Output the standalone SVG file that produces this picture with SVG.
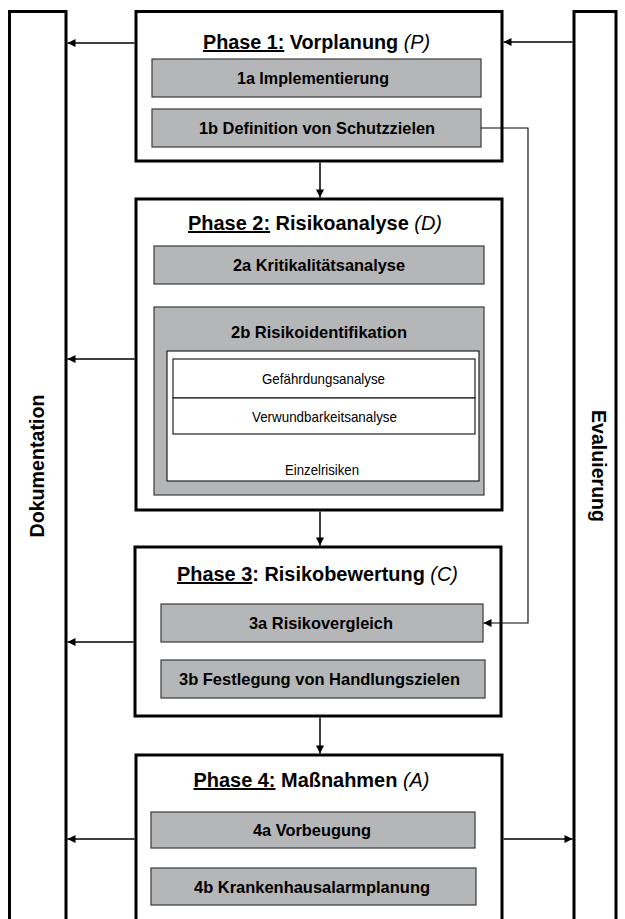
<svg xmlns="http://www.w3.org/2000/svg" width="625" height="919" viewBox="0 0 625 919">
<style>
.frame{fill:#fff;stroke:#000;stroke-width:3}
.gray{fill:#b5b6b8;stroke:#3a3a3a;stroke-width:1.2}
.white{fill:#fff;stroke:#222;stroke-width:1.2}
.title{font-family:"Liberation Sans",Arial,sans-serif;font-size:20px;font-weight:bold;text-anchor:middle;fill:#000}
.it{font-style:italic;font-weight:normal}
.ul{text-decoration:underline}
.box{font-family:"Liberation Sans",Arial,sans-serif;font-size:16.5px;font-weight:bold;text-anchor:middle;fill:#000}
.small{font-family:"Liberation Sans",Arial,sans-serif;font-size:15px;text-anchor:middle;fill:#000}
.side{font-family:"Liberation Sans",Arial,sans-serif;font-size:20px;font-weight:bold;text-anchor:middle;fill:#000}
.con{fill:none;stroke:#000;stroke-width:1.5}
.thin{fill:none;stroke:#000;stroke-width:1.1}
</style>
<defs>
<marker id="ah" viewBox="0 0 10 10" refX="10" refY="5" markerWidth="9" markerHeight="8" markerUnits="userSpaceOnUse" orient="auto">
<path d="M0,0 L10,5 L0,10 z" fill="#000"/>
</marker>
</defs>

<g id="dokumentation">
<rect class="frame" x="9.5" y="11.5" width="56.5" height="920"/>
<text class="side" transform="translate(44,466) rotate(-90)" textLength="143" lengthAdjust="spacingAndGlyphs">Dokumentation</text>
</g>

<g id="evaluierung">
<rect class="frame" x="574" y="11.5" width="42" height="920"/>
<text class="side" transform="translate(592,466) rotate(90)" textLength="112" lengthAdjust="spacingAndGlyphs">Evaluierung</text>
</g>

<g id="phase1">
<rect class="frame" x="136" y="11.5" width="366" height="149.5"/>
<text class="title" x="316.5" y="49" textLength="227" lengthAdjust="spacingAndGlyphs"><tspan class="ul">Phase 1:</tspan> Vorplanung <tspan class="it">(P)</tspan></text>
<g id="p1a"><rect class="gray" x="152" y="59" width="329" height="38"/><text class="box" x="313" y="84" textLength="152" lengthAdjust="spacingAndGlyphs">1a Implementierung</text></g>
<g id="p1b"><rect class="gray" x="152" y="109" width="329" height="38"/><text class="box" x="317" y="134" textLength="236" lengthAdjust="spacingAndGlyphs">1b Definition von Schutzzielen</text></g>
</g>

<g id="phase2">
<rect class="frame" x="136" y="199" width="366" height="311"/>
<text class="title" x="315" y="230" textLength="254" lengthAdjust="spacingAndGlyphs"><tspan class="ul">Phase 2:</tspan> Risikoanalyse <tspan class="it">(D)</tspan></text>
<g id="p2a"><rect class="gray" x="154" y="246" width="330" height="38"/><text class="box" x="319" y="271" textLength="172" lengthAdjust="spacingAndGlyphs">2a Kritikalitätsanalyse</text></g>
<g id="p2b">
<rect class="gray" x="154" y="307" width="330" height="188"/>
<text class="box" x="319" y="337.5" textLength="176" lengthAdjust="spacingAndGlyphs">2b Risikoidentifikation</text>
<rect class="white" x="167" y="351" width="312" height="130"/>
<g id="gef"><rect class="white" x="173" y="359" width="302" height="39"/><text class="small" x="323.5" y="383.5" textLength="123" lengthAdjust="spacingAndGlyphs">Gefährdungsanalyse</text></g>
<g id="verw"><rect class="white" x="173" y="398" width="302" height="36"/><text class="small" x="324.5" y="421.5" textLength="145" lengthAdjust="spacingAndGlyphs">Verwundbarkeitsanalyse</text></g>
<text class="small" x="322" y="475" textLength="74" lengthAdjust="spacingAndGlyphs">Einzelrisiken</text>
</g>
</g>

<g id="phase3">
<rect class="frame" x="135" y="547" width="366" height="169"/>
<text class="title" x="317.5" y="581" textLength="281" lengthAdjust="spacingAndGlyphs"><tspan class="ul">Phase 3</tspan>: Risikobewertung <tspan class="it">(C)</tspan></text>
<g id="p3a"><rect class="gray" x="161" y="604" width="322" height="38"/><text class="box" x="321" y="629" textLength="144" lengthAdjust="spacingAndGlyphs">3a Risikovergleich</text></g>
<g id="p3b"><rect class="gray" x="161" y="660" width="324" height="38"/><text class="box" x="319.5" y="685" textLength="281" lengthAdjust="spacingAndGlyphs">3b Festlegung von Handlungszielen</text></g>
</g>

<g id="phase4">
<rect class="frame" x="136" y="755" width="366" height="180"/>
<text class="title" x="311.5" y="787" textLength="236" lengthAdjust="spacingAndGlyphs"><tspan class="ul">Phase 4:</tspan> Maßnahmen <tspan class="it">(A)</tspan></text>
<g id="p4a"><rect class="gray" x="151" y="812" width="324" height="36"/><text class="box" x="312" y="836" textLength="118" lengthAdjust="spacingAndGlyphs">4a Vorbeugung</text></g>
<g id="p4b"><rect class="gray" x="151" y="868" width="325" height="37"/><text class="box" x="312" y="892.5" textLength="236" lengthAdjust="spacingAndGlyphs">4b Krankenhausalarmplanung</text></g>
</g>

<g id="connectors">
<path class="con" d="M134.5,43 H67.5" marker-end="url(#ah)"/>
<path class="con" d="M572.5,42 H503.5" marker-end="url(#ah)"/>
<path class="con" d="M320,162.5 V197.5" marker-end="url(#ah)"/>
<path class="con" d="M134.5,359 H67.5" marker-end="url(#ah)"/>
<path class="con" d="M320,511.5 V545.5" marker-end="url(#ah)"/>
<path class="con" d="M133.5,642 H67.5" marker-end="url(#ah)"/>
<path class="con" d="M320,717.5 V753.5" marker-end="url(#ah)"/>
<path class="con" d="M134.5,839 H67.5" marker-end="url(#ah)"/>
<path class="con" d="M503.5,839 H572.5" marker-end="url(#ah)"/>
<path class="thin" d="M481,128 H528 V623 H483.5" marker-end="url(#ah)"/>
</g>
</svg>
